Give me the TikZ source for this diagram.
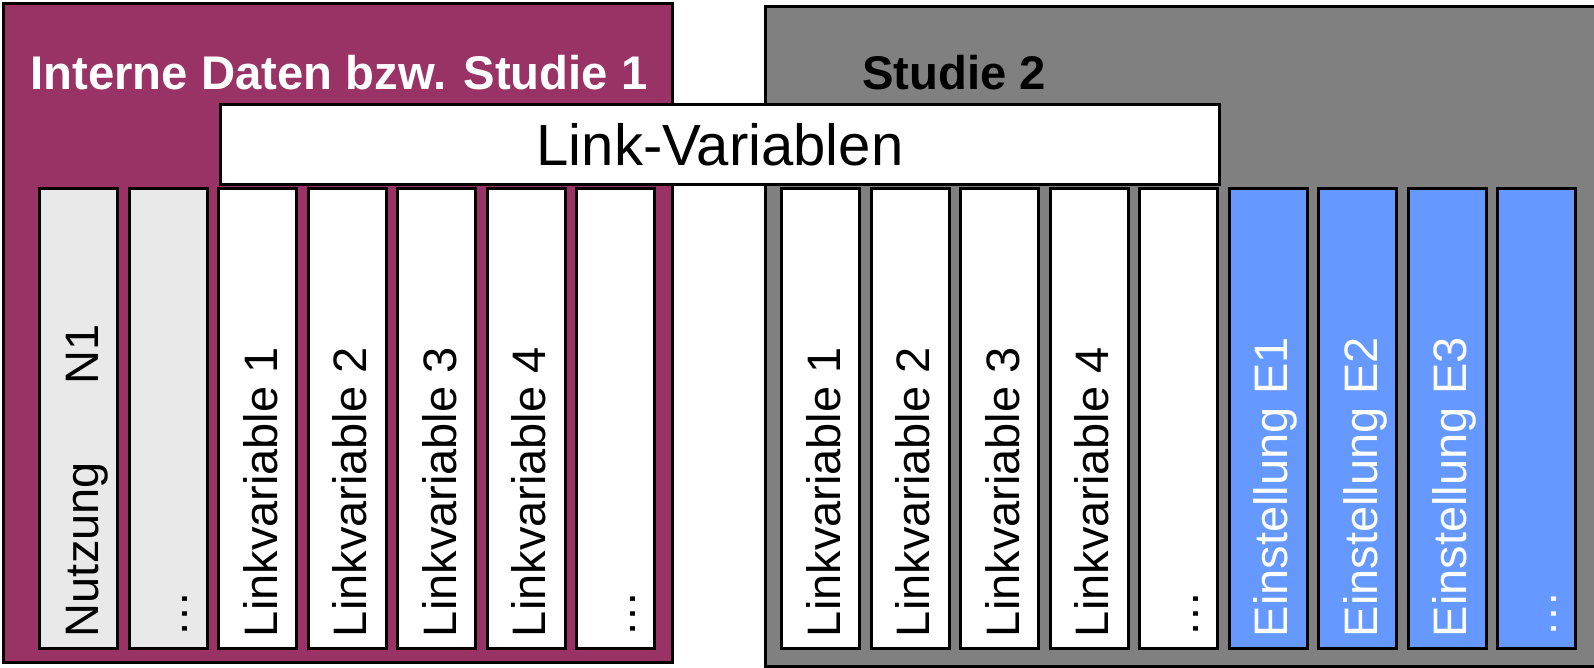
\documentclass[tikz,border=0pt]{standalone}
\usepackage{fontspec}
\setmainfont{Liberation Sans}
\usetikzlibrary{positioning}
\definecolor{wine}{RGB}{153, 51, 102}
\definecolor{stone gray}{RGB}{128, 128, 128}
\definecolor{sky blue}{RGB}{102, 153, 255}
\definecolor{pale gray}{RGB}{233, 233, 233}

\begin{document}
\begin{tikzpicture}[
        x=0.025cm, y=-0.025cm,
        line width=0.075cm,
        studybox/.style={draw=black, inner sep=0pt, outer sep=0pt},
        title/.style={font=\fontsize{33.6}{40}\selectfont\bfseries, inner sep=0pt, anchor=base},
        linkbox/.style={draw=black, fill=white, minimum width=24.95cm, minimum height=1.9875cm,
            inner sep=0pt, font=\fontsize{41.3}{48}\selectfont},
        column/.style={draw=black, fill=white, minimum width=1.95cm, minimum height=11.5cm,
            inner sep=0pt, outer sep=0pt},
        coltext/.style={rotate=90, anchor=base west, inner sep=0pt, font=\fontsize{33.4}{40}\selectfont},
        node distance=0.2875cm
    ]
    \useasboundingbox (0,0) rectangle (1594,668);

    % the two studies
    \node[studybox, fill=wine, minimum width=16.725cm, minimum height=16.475cm] (s1) at (338,333) {};
    \node[studybox, fill=stone gray, minimum width=21.3625cm, minimum height=16.4875cm] (s2) at (1192.75,336.25) {};
    \node[title, text=white] (s1 title) at (339,90) {Interne Daten bzw. Studie 1};
    \node[title] (s2 title) at (954,90) {Studie 2};
    \node[linkbox] (link) at (720,144.75) {Link-Variablen};

    % columns of study 1
    \node[column, fill=pale gray] (n1) at (78.5,418.5) {};
    \node[column, fill=pale gray, right=of n1] (n2) {};
    \node[column, right=of n2] (a1) {};
    \node[column, right=of a1] (a2) {};
    \node[column, right=of a2] (a3) {};
    \node[column, right=of a3] (a4) {};
    \node[column, right=of a4] (a5) {};

    % columns of study 2
    \node[column] (b1) at (820.5,418.5) {};
    \node[column, right=of b1] (b2) {};
    \node[column, right=of b2] (b3) {};
    \node[column, right=of b3] (b4) {};
    \node[column, right=of b4] (b5) {};
    \node[column, fill=sky blue, right=of b5] (e1) {};
    \node[column, fill=sky blue, right=of e1] (e2) {};
    \node[column, fill=sky blue, right=of e2] (e3) {};
    \node[column, fill=sky blue, right=of e3] (e4) {};

    % labels
    \node[coltext] (n1 text) at ([xshift=0.49cm, yshift=0.25cm]n1.south) {Nutzung\hspace{1.65em}N1};
    \node[coltext] (n2 text) at ([xshift=0.49cm, yshift=0.25cm]n2.south) {…};
    \node[coltext] (a1 text) at ([xshift=0.49cm, yshift=0.25cm]a1.south) {Linkvariable 1};
    \node[coltext] (a2 text) at ([xshift=0.49cm, yshift=0.25cm]a2.south) {Linkvariable 2};
    \node[coltext] (a3 text) at ([xshift=0.49cm, yshift=0.25cm]a3.south) {Linkvariable 3};
    \node[coltext] (a4 text) at ([xshift=0.49cm, yshift=0.25cm]a4.south) {Linkvariable 4};
    \node[coltext] (a5 text) at ([xshift=0.49cm, yshift=0.25cm]a5.south) {…};
    \node[coltext] (b1 text) at ([xshift=0.49cm, yshift=0.25cm]b1.south) {Linkvariable 1};
    \node[coltext] (b2 text) at ([xshift=0.49cm, yshift=0.25cm]b2.south) {Linkvariable 2};
    \node[coltext] (b3 text) at ([xshift=0.49cm, yshift=0.25cm]b3.south) {Linkvariable 3};
    \node[coltext] (b4 text) at ([xshift=0.49cm, yshift=0.25cm]b4.south) {Linkvariable 4};
    \node[coltext] (b5 text) at ([xshift=0.49cm, yshift=0.25cm]b5.south) {…};
    \node[coltext, text=white] (e1 text) at ([xshift=0.49cm, yshift=0.25cm]e1.south) {Einstellung E1};
    \node[coltext, text=white] (e2 text) at ([xshift=0.49cm, yshift=0.25cm]e2.south) {Einstellung E2};
    \node[coltext, text=white] (e3 text) at ([xshift=0.49cm, yshift=0.25cm]e3.south) {Einstellung E3};
    \node[coltext, text=white] (e4 text) at ([xshift=0.49cm, yshift=0.25cm]e4.south) {…};
\end{tikzpicture}
\end{document}
